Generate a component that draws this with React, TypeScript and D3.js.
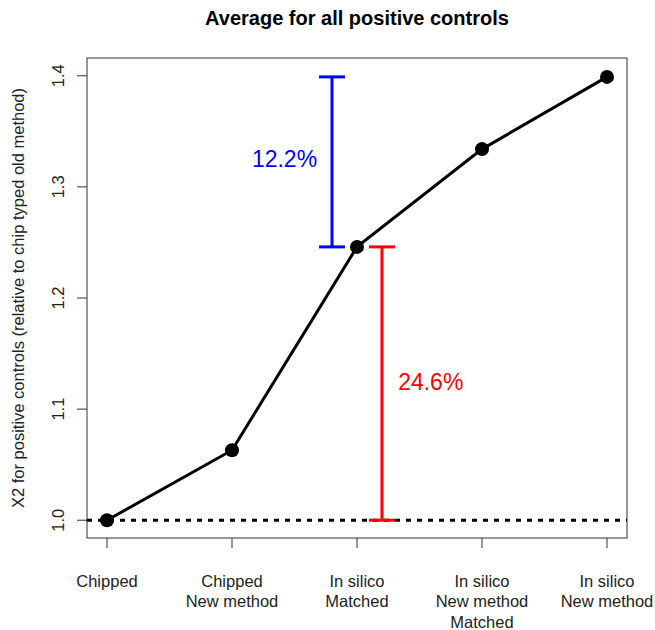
import React from 'react';
import * as d3 from 'd3';

const categories = [
  ['Chipped'],
  ['Chipped', 'New method'],
  ['In silico', 'Matched'],
  ['In silico', 'New method', 'Matched'],
  ['In silico', 'New method'],
];
const values = [1.0, 1.063, 1.246, 1.334, 1.399];
const yTicks = [1.0, 1.1, 1.2, 1.3, 1.4];
const baseline = 1.0;
// annotation bars: x position, low, high, label, colour
const gaps = [
  { x: 2.8, lo: 1.246, hi: 1.399, label: '12.2%', color: '#0000ff', labelX: 2.42, labelY: 1.325 },
  { x: 3.2, lo: 1.0, hi: 1.246, label: '24.6%', color: '#ff0000', labelX: 3.59, labelY: 1.124 },
];

const width = 655;
const height = 630;
const left = 87;
const right = 627;
const top = 58;
const bottom = 538;
const font = 'Liberation Sans, Arial, sans-serif';

export default function App() {
  const x = d3.scaleLinear().domain([0.84, 5.16]).range([left, right]);
  const y = d3.scaleLinear().domain([0.984, 1.416]).range([bottom, top]);
  const line = d3.line<number>().x((d, i) => x(i + 1)).y(d => y(d));
  const cap = 13;

  return (
    <svg width={width} height={height} style={{ position: 'absolute', left: 0, top: 0 }} fontFamily={font}>
      <rect width={width} height={height} fill="white" />
      <text x={(left + right) / 2} y={25} textAnchor="middle" fontSize={20} fontWeight="bold">
        Average for all positive controls
      </text>
      <rect x={left} y={top} width={right - left} height={bottom - top} fill="none" stroke="#333" strokeWidth={1} />
      {yTicks.map(t => (
        <g key={t}>
          <line x1={left - 10} x2={left} y1={y(t)} y2={y(t)} stroke="#333" />
          <text transform={`translate(64,${y(t)}) rotate(-90)`} textAnchor="middle" fontSize={16.5} fill="#222">
            {d3.format('.1f')(t)}
          </text>
        </g>
      ))}
      <text transform={`translate(24,${(top + bottom) / 2}) rotate(-90)`} textAnchor="middle" fontSize={16.5} fill="#222">
        X2 for positive controls (relative to chip typed old method)
      </text>
      {categories.map((c, i) => (
        <g key={i}>
          <line x1={x(i + 1)} x2={x(i + 1)} y1={bottom} y2={bottom + 10} stroke="#333" />
          {c.map((s, j) => (
            <text key={j} x={x(i + 1)} y={587 + j * 20.4} textAnchor="middle" fontSize={16.5} fill="#222">
              {s}
            </text>
          ))}
        </g>
      ))}
      <line x1={left} x2={right} y1={y(baseline)} y2={y(baseline)} stroke="black" strokeWidth={3} strokeDasharray="5,6" />
      {gaps.map(g => (
        <g key={g.label} stroke={g.color} strokeWidth={3}>
          <line x1={x(g.x)} x2={x(g.x)} y1={y(g.lo)} y2={y(g.hi)} />
          <line x1={x(g.x) - cap} x2={x(g.x) + cap} y1={y(g.lo)} y2={y(g.lo)} />
          <line x1={x(g.x) - cap} x2={x(g.x) + cap} y1={y(g.hi)} y2={y(g.hi)} />
          <text x={x(g.labelX)} y={y(g.labelY)} dy="0.35em" textAnchor="middle" fontSize={23} fill={g.color} stroke="none">
            {g.label}
          </text>
        </g>
      ))}
      <path d={line(values) ?? ''} fill="none" stroke="black" strokeWidth={3} />
      {values.map((v, i) => (
        <circle key={i} cx={x(i + 1)} cy={y(v)} r={7} fill="black" />
      ))}
    </svg>
  );
}
